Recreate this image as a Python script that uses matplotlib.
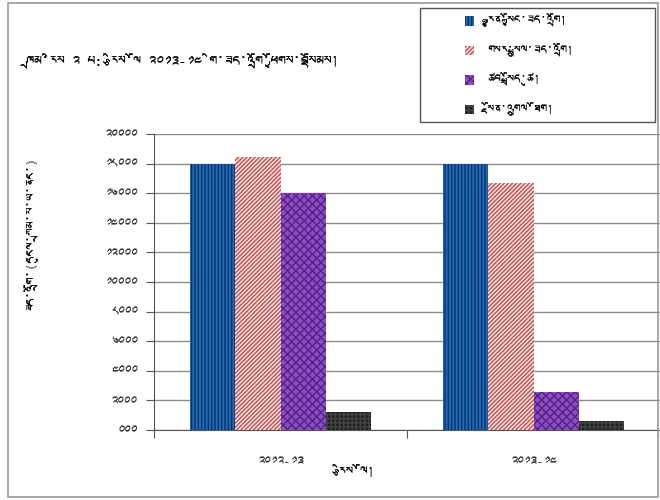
import matplotlib
matplotlib.use("Agg")
import matplotlib.pyplot as plt
import numpy as np
from matplotlib import font_manager, ft2font
from matplotlib.patches import Rectangle

# ---- data ----
categories = ["༢༠༡༢-༡༣", "༢༠༡༣-༡༤"]
series_names = ["རྒྱུན་སྐྱོང་ཟད་འགྲོ།", "གསར་སྤྲུལ་ཟད་འགྲོ།", "ཚབ་སྤྲོད་ཚུ།", "སྔོན་འགྲུལ་ཐོག།"]
recurrent = [18000, 18000]
capital = [18420, 16700]
repayment = [16000, 2600]
lending = [1190, 640]
ytick_values = [0, 2000, 4000, 6000, 8000, 10000, 12000, 14000, 16000, 18000, 20000]
ytick_labels = ["༠༠༠", "༢༠༠༠", "༤༠༠༠", "༦༠༠༠", "༨༠༠༠", "༡༠༠༠༠", "༡༢༠༠༠",
                "༡༤༠༠༠", "༡༦༠༠༠", "༡༨༠༠༠", "༢༠༠༠༠"]
title_text = "ཁྲམ་རིས ༢ པ: རྩིས་ལོ ༢༠༡༣-༡༤ གི་ཟད་འགྲོ་ཕྱོགས་བསྡོམས།"
xlabel_text = "རྩིས་ལོ།"
ylabel_text = "ཟད་འགྲོ་(དངུལ་ཀྲམ་ས་ཡ་ནང་)"

# ---- find a font with Tibetan glyphs if any ----
def find_tibetan():
    seen = set()
    for f in font_manager.fontManager.ttflist:
        if f.fname in seen:
            continue
        seen.add(f.fname)
        try:
            ft = ft2font.FT2Font(f.fname)
            cm = ft.get_charmap()
            if 0x0F40 in cm and 0x0F22 in cm:
                return f.name
        except Exception:
            pass
    return None

tib = find_tibetan()
fams = ([tib] if tib else []) + ["DejaVu Sans"]
plt.rcParams['font.family'] = fams
plt.rcParams['hatch.linewidth'] = 1.0

W, H = 660, 500
fig = plt.figure(figsize=(W / 100, H / 100), dpi=100)

# axes in pixel coords
ax_left, ax_right, ax_top, ax_bot = 154, 660, 134, 430
ax = fig.add_axes([ax_left / W, 1 - ax_bot / H, (ax_right - ax_left) / W, (ax_bot - ax_top) / H])

series = [recurrent, capital, repayment, lending]
faces = ["#1f6bb5", "#f6e0e0", "#8a4fc0", "#222222"]
hatchc = ["#0b2f66", "#c05050", "#5a1f8a", "#444444"]
hatches = ["|||||", "////////", "xxxx", "++++"]
bw = 0.179
x = np.arange(len(categories))
handles = []
for i, (vals, fc, hc, hp) in enumerate(zip(series, faces, hatchc, hatches)):
    offs = (i - 1.5) * bw
    b = ax.bar(x + offs, vals, width=bw, color=fc, edgecolor=hc, hatch=hp,
               linewidth=0, zorder=3, label=series_names[i])
    handles.append(b)

ax.set_xlim(-0.5, 1.5)
ax.set_ylim(0, 20000)
ax.set_yticks(ytick_values)
ax.set_yticklabels(ytick_labels, fontsize=9.5, color="#333333")
ax.yaxis.grid(True, color="#8c8c8c", linewidth=1.0, zorder=0)
ax.set_axisbelow(True)

ax.set_xticks([-0.5, 0.5, 1.5])
ax.set_xticklabels([])
ax.tick_params(axis='x', length=6, color="#555555", direction='out')
ax.tick_params(axis='y', length=6, color="#555555", direction='out', pad=6)
for sp in ["top", "right"]:
    ax.spines[sp].set_visible(False)
ax.spines["left"].set_color("#555555")
ax.spines["bottom"].set_color("#555555")

# category labels
for xi, lab in zip(x, categories):
    ax.text(xi, -2200, lab, ha='center', va='center', fontsize=9.5, color="#333333")

fig.text(357 / W, 1 - 472 / H, xlabel_text, ha='center', va='center', fontsize=10.5)
fig.text(30 / W, 1 - 233 / H, ylabel_text, ha='center', va='center', fontsize=10, rotation=90)
fig.text(27 / W, 1 - 62 / H, title_text, ha='left', va='center', fontsize=11)

# legend box
fig.patches.append(Rectangle((420 / W, 1 - 122 / H), 235 / W, 114 / H, transform=fig.transFigure,
                             fill=False, edgecolor="#555555", linewidth=1.0))
leg = fig.legend(handles=handles, labels=series_names, loc='upper left',
                 bbox_to_anchor=(465 / W, 1 - 14 / H), bbox_transform=fig.transFigure,
                 frameon=False, fontsize=9.5, handlelength=0.7, handleheight=0.7,
                 labelspacing=1.2, borderpad=0, handletextpad=1.0,
                 borderaxespad=0)

# chart area border
fig.patches.append(Rectangle((8 / W, 3 / H), 650 / W, 494 / H, transform=fig.transFigure,
                             fill=False, edgecolor="#9a9a9a", linewidth=1.2))

fig.savefig("out.png", dpi=100)
